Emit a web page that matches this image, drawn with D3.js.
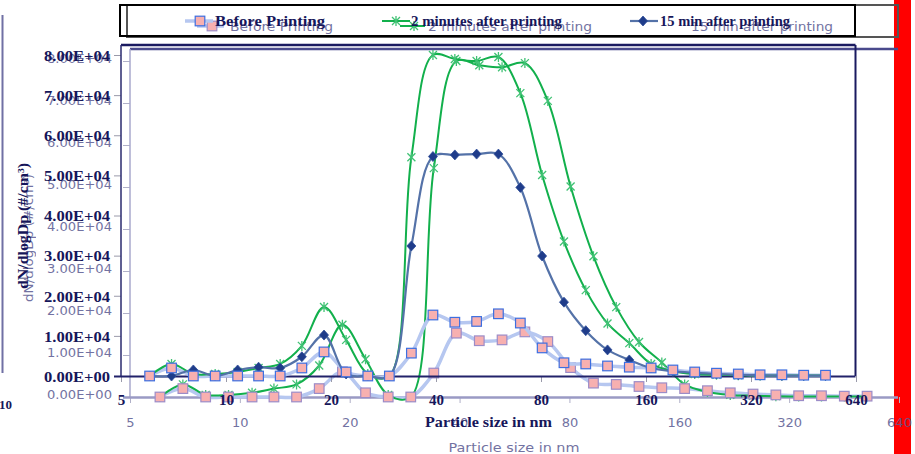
<!DOCTYPE html>
<html><head><meta charset="utf-8">
<script src="https://cdn.jsdelivr.net/npm/d3@7"></script>
<style>body{margin:0;background:#fff}svg{display:block}</style>
</head><body>
<svg id="c" width="915" height="454"></svg>
<script>
// ---- data ----
const sizes = [6.04, 6.98, 8.06, 9.31, 10.8, 12.4, 14.3, 16.5, 19.1, 22.1, 25.5, 29.4, 34.0, 39.2, 45.3, 52.3, 60.4, 69.8, 80.6, 93.1, 107.5, 124.1, 143.3, 165.5, 191.1, 220.7, 254.8, 294.3, 339.8, 392.4, 453.2, 523.3];
const seriesNames = ["Before Printing", "2 minutes after printing", "15 min after printing"];
const beforePrinting = [0, 2000, 0, 0, 0, 0, 0, 2000, 6000, 1000, 0, 0, 5700, 15200, 13400, 13600, 15500, 13200, 7000, 3300, 3000, 2500, 2200, 2000, 1500, 1000, 700, 500, 300, 300, 200, 200];
const twoMinAfter = [0, 3000, 500, 500, 1000, 2000, 3000, 7500, 17200, 9000, 500, 0, 54500, 80000, 79000, 78500, 79500, 70500, 50100, 33500, 21400, 13100, 8200, 3000, 1200, 500, 300, 200, 100, 100, 100, 100];
const fifteenMinAfter = [0, 0, 1500, 0, 1500, 2200, 2000, 4800, 10200, 500, 0, 0, 32400, 54700, 55100, 55300, 55300, 47000, 29900, 18400, 11300, 6500, 4000, 2000, 1200, 800, 500, 300, 200, 100, 100, 100];
const xTickValues = [5, 10, 20, 40, 80, 160, 320, 640];
const xTickLabels = ["5", "10", "20", "40", "80", "160", "320", "640"];
const yTickValues = [0, 10000, 20000, 30000, 40000, 50000, 60000, 70000, 80000];
const yTickLabels = ["0.00E+00", "1.00E+04", "2.00E+04", "3.00E+04", "4.00E+04", "5.00E+04", "6.00E+04", "7.00E+04", "8.00E+04"];
const xTitle = "Particle size in nm";
const yTitle = "dN/dlogDp (#/cm³)";

const svg = d3.select("#c");

// red strip at the right edge (behind the texts)
svg.append("rect").attr("x", 894).attr("y", 0).attr("width", 17).attr("height", 454).attr("fill", "#ff0000");

// layer settings (the picture is two superimposed renderings of the same chart)
const layerB = {
  x5: 130, x640: 899, y0: 397, y8: 61, top: 49, right: 898, frameRight: false,
  series: [0, 1],
  font: "'DejaVu Sans', sans-serif", weight: "normal", color: "#5a5a92", textOpacity: 0.85,
  yLabSize: 12, yLabRight: 112, yLabLen: 65, yLabDy: -3,
  xLabSize: 13, xLabBase: 427,
  xTitleX: 514, xTitleY: 452, xTitleLen: 131, xTitleSize: 13,
  yTitleX: 33, yTitleY: 238, yTitleLen: 128, yTitleSize: 12,
  axisColor: "#9a9ac4", axisW: 2.5, yAxisColor: "#a8a8cc", topColor: "#4a4a8c",
  tickColor: "#b0b0c8",
  leg: {x: 127, y: 5, w: 771, h: 32, stroke: "#555", base: 31, size: 12,
        items: [{l0: 197, l1: 224, m: 212, t: 230, len: 103}, {l0: 400, l1: 425, m: 414, t: 428, len: 164}, {t: 691, len: 142}]},
  sqStroke: "#9c8cc8"
};
const layerA = {
  x5: 121, x640: 856, y0: 376, y8: 55, top: 45, right: 855.5, frameRight: true,
  series: [0, 1, 2],
  font: "'Liberation Serif', 'Times New Roman', serif", weight: "bold", color: "#16165a", textOpacity: 1,
  yLabSize: 15, yLabRight: 110, yLabLen: 66, yLabDy: 0,
  xLabSize: 15, xLabBase: 405,
  xTitleX: 488.5, xTitleY: 427, xTitleLen: 127, xTitleSize: 15,
  yTitleX: 28, yTitleY: 226, yTitleLen: 126, yTitleSize: 15,
  axisColor: "#22226a", axisW: 2, yAxisColor: "#2a2a6e", topColor: "#1a1a60",
  tickColor: "#9a9aaa",
  leg: {x: 120, y: 5, w: 735, h: 31, stroke: "#000", base: 26, size: 15,
        items: [{l0: 185, l1: 213, m: 200, t: 215, len: 110}, {l0: 382, l1: 410, m: 396, t: 411, len: 151}, {l0: 630, l1: 658, m: 643, t: 660, len: 130}]},
  sqStroke: "#3d6fe0"
};

const styles = [
  {kind: "square", line: "#b6c7f0", lw: 3.5},
  {kind: "star", line: "#12b04c", lw: 2},
  {kind: "diamond", line: "#5472a8", lw: 2.2}
];
const valuesList = [beforePrinting, twoMinAfter, fifteenMinAfter];

function marker(g, kind, cx, cy, L) {
  if (kind === "square") {
    g.append("rect").attr("x", cx - 4.8).attr("y", cy - 4.8).attr("width", 9.6).attr("height", 9.6)
      .attr("fill", "#f7b0b0").attr("stroke", L.sqStroke).attr("stroke-width", 1.2);
  } else if (kind === "star") {
    g.append("path").attr("d", `M${cx-4},${cy-4}L${cx+4},${cy+4}M${cx-4},${cy+4}L${cx+4},${cy-4}M${cx},${cy-5}L${cx},${cy+5}`)
      .attr("stroke", "#40c274").attr("stroke-width", 1.3).attr("fill", "none");
  } else {
    g.append("path").attr("d", `M${cx},${cy-5}L${cx+4.5},${cy}L${cx},${cy+5}L${cx-4.5},${cy}Z`)
      .attr("fill", "#1f3c8a").attr("stroke", "#2d4c98").attr("stroke-width", 0.8);
  }
}

function drawLayer(L) {
  const g = svg.append("g");
  const x = d3.scaleLog().base(2).domain([5, 640]).range([L.x5, L.x640]);
  const y = d3.scaleLinear().domain([0, 80000]).range([L.y0, L.y8]);

  // legend
  g.append("rect").attr("x", L.leg.x).attr("y", L.leg.y).attr("width", L.leg.w).attr("height", L.leg.h)
    .attr("fill", "none").attr("stroke", L.leg.stroke).attr("stroke-width", 2);
  L.leg.items.forEach((it, i) => {
    const ly = L.leg.base - 5;
    if (it.l0 !== undefined) {
      g.append("line").attr("x1", it.l0).attr("x2", it.l1).attr("y1", ly).attr("y2", ly)
        .attr("stroke", styles[i].line).attr("stroke-width", styles[i].lw);
      marker(g, styles[i].kind, it.m, ly, L);
    }
    g.append("text").attr("x", it.t).attr("y", L.leg.base).text(seriesNames[i])
      .attr("font-family", L.font).attr("font-weight", L.weight).attr("font-size", L.leg.size)
      .attr("fill", L.color).attr("opacity", L.textOpacity)
      .attr("textLength", it.len).attr("lengthAdjust", "spacingAndGlyphs");
  });

  // axes with ticks and labels
  const xa = g.append("g").attr("transform", `translate(0,${L.y0})`)
    .call(d3.axisBottom(x).tickValues(xTickValues).tickFormat((d, i) => xTickLabels[i]).tickSize(6));
  xa.select(".domain").remove();
  xa.selectAll(".tick line").attr("stroke", L.tickColor);
  xa.selectAll(".tick text").attr("y", L.xLabBase - L.y0).attr("dy", null)
    .attr("font-family", L.font).attr("font-weight", L.weight).attr("font-size", L.xLabSize)
    .attr("fill", L.color).attr("opacity", L.textOpacity);

  const ya = g.append("g").attr("transform", `translate(${L.x5},0)`)
    .call(d3.axisLeft(y).tickValues(yTickValues).tickFormat((d, i) => yTickLabels[i]).tickSize(7));
  ya.select(".domain").remove();
  ya.selectAll(".tick line").attr("stroke", L.tickColor);
  ya.selectAll(".tick text").attr("x", L.yLabRight - L.x5).attr("dy", "0.35em").attr("y", L.yLabDy)
    .attr("font-family", L.font).attr("font-weight", L.weight).attr("font-size", L.yLabSize)
    .attr("fill", L.color).attr("opacity", L.textOpacity)
    .attr("textLength", L.yLabLen).attr("lengthAdjust", "spacingAndGlyphs");

  // titles
  g.append("text").attr("x", L.xTitleX).attr("y", L.xTitleY).attr("text-anchor", "middle").text(xTitle)
    .attr("font-family", L.font).attr("font-weight", L.weight).attr("font-size", L.xTitleSize)
    .attr("fill", L.color).attr("opacity", L.textOpacity)
    .attr("textLength", L.xTitleLen).attr("lengthAdjust", "spacingAndGlyphs");
  g.append("text").attr("transform", `translate(${L.yTitleX},${L.yTitleY}) rotate(-90)`).attr("text-anchor", "middle").text(yTitle)
    .attr("font-family", L.font).attr("font-weight", L.weight).attr("font-size", L.yTitleSize)
    .attr("fill", L.color).attr("opacity", L.textOpacity)
    .attr("textLength", L.yTitleLen).attr("lengthAdjust", "spacingAndGlyphs");

  // plot frame
  g.append("line").attr("x1", L.x5).attr("x2", L.right).attr("y1", L.top).attr("y2", L.top)
    .attr("stroke", L.topColor).attr("stroke-width", 2.5);
  if (L.frameRight) {
    g.append("line").attr("x1", L.right).attr("x2", L.right).attr("y1", L.top).attr("y2", L.y0)
      .attr("stroke", L.topColor).attr("stroke-width", 2);
  }
  g.append("line").attr("x1", L.x5).attr("x2", L.x5).attr("y1", L.top).attr("y2", L.y0)
    .attr("stroke", L.yAxisColor).attr("stroke-width", 1.5);
  g.append("line").attr("x1", L.x5 - 7).attr("x2", L.right).attr("y1", L.y0 + 0.5).attr("y2", L.y0 + 0.5)
    .attr("stroke", L.axisColor).attr("stroke-width", L.axisW);

  // series lines (smoothed)
  const line = d3.line().x(d => x(d[0])).y(d => y(d[1])).curve(d3.curveCatmullRom.alpha(0.5));
  [0, 1, 2].filter(i => L.series.includes(i)).forEach(i => {
    const pts = sizes.map((s, k) => [s, valuesList[i][k]]);
    g.append("path").attr("d", line(pts)).attr("fill", "none")
      .attr("stroke", styles[i].line).attr("stroke-width", styles[i].lw).attr("stroke-linejoin", "round");
  });
  // markers (pink drawn last)
  [1, 2, 0].filter(i => L.series.includes(i)).forEach(i => {
    const mg = g.append("g");
    sizes.forEach((s, k) => marker(mg, styles[i].kind, x(s), y(valuesList[i][k]), L));
  });
}

drawLayer(layerB);
drawLayer(layerA);

// stray elements of the picture
svg.append("line").attr("x1", 2.5).attr("x2", 2.5).attr("y1", 15).attr("y2", 373)
  .attr("stroke", "#7070a4").attr("stroke-width", 2);
svg.append("text").attr("x", -1).attr("y", 409).text("10")
  .attr("font-family", "'Liberation Serif', serif").attr("font-weight", "bold").attr("font-size", 13).attr("fill", "#16165a");
</script>
</body></html>
